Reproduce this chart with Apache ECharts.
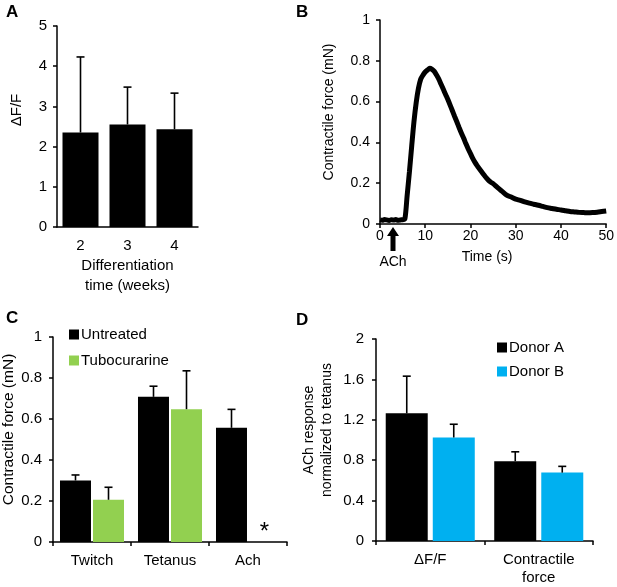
<!DOCTYPE html>
<html>
<head>
<meta charset="utf-8">
<script src="https://cdn.jsdelivr.net/npm/echarts@6/dist/echarts.min.js"></script>
<style>
  html, body { margin: 0; padding: 0; background: #fff; }
  #main { width: 617px; height: 587px; }
</style>
</head>
<body>
<div id="main"></div>
<script>
// panel A: calcium response vs differentiation time
var weeks = ['2', '3', '4']
var dffMean = [2.35, 2.55, 2.43]
var dffUpper = [4.23, 3.48, 3.33]

// panel B: ACh-evoked force trace
var traceTime = [0, 0.5, 1, 1.5, 2, 2.5, 3, 3.5, 4, 4.5, 5, 5.5, 6, 6.5, 7, 7.5, 8, 8.5, 9, 9.5,
  10, 10.5, 11, 11.5, 12, 12.5, 13, 13.5, 14, 14.5, 15, 15.5, 16, 16.5, 17, 17.5, 18, 18.5, 19, 19.5,
  20, 20.5, 21, 21.5, 22, 22.5, 23, 23.5, 24, 24.5, 25, 26, 27, 28, 29, 30, 31, 32, 33, 34,
  35, 36, 37, 38, 39, 40, 41, 42, 43, 44, 45, 46, 47, 48, 49, 50]
var traceForce = [0.02, 0.018, 0.022, 0.02, 0.017, 0.021, 0.019, 0.022, 0.018, 0.02, 0.021, 0.025, 0.14, 0.255, 0.38, 0.5, 0.595, 0.665, 0.71, 0.73,
  0.745, 0.755, 0.763, 0.758, 0.748, 0.73, 0.71, 0.685, 0.66, 0.635, 0.61, 0.583, 0.555, 0.527, 0.5, 0.472, 0.445, 0.42, 0.393, 0.368,
  0.345, 0.322, 0.302, 0.285, 0.27, 0.255, 0.24, 0.226, 0.214, 0.205, 0.198, 0.178, 0.16, 0.142, 0.132, 0.122, 0.116, 0.108, 0.102, 0.097,
  0.092, 0.086, 0.08, 0.076, 0.072, 0.069, 0.065, 0.061, 0.059, 0.057, 0.056, 0.055, 0.056, 0.058, 0.061, 0.064]

// panel C: force by stimulus, with/without tubocurarine
var stimuli = ['Twitch', 'Tetanus', 'Ach']
var untreatedMean = [0.30, 0.708, 0.557]
var untreatedUpper = [0.327, 0.76, 0.647]
var tuboMean = [0.206, 0.648, 0]
var tuboUpper = [0.267, 0.835, null]

// panel D: ACh response normalized to tetanus
var measures = ['ΔF/F', 'Contractile\nforce']
var donorAMean = [1.264, 0.79]
var donorAUpper = [1.632, 0.883]
var donorBMean = [1.025, 0.677]
var donorBUpper = [1.156, 0.739]

var FONT = 'Liberation Sans, Arial, sans-serif'
var GREEN = '#92d050'
var BLUE = '#00b0f0'

function errRows (mean, upper) {
  var rows = []
  for (var i = 0; i < mean.length; i++) {
    if (upper[i] != null) rows.push([i, mean[i], upper[i]])
  }
  return rows
}

// one-sided error bar with a cap, shifted sideways to sit on its bar
function errorBars (name, xi, mean, upper, offset) {
  return {
    name: name + ' err',
    type: 'custom',
    xAxisIndex: xi,
    yAxisIndex: xi,
    z: 5,
    silent: true,
    data: errRows(mean, upper),
    renderItem: function (params, api) {
      var base = api.coord([api.value(0), api.value(1)])
      var top = api.coord([api.value(0), api.value(2)])
      var cx = base[0] + offset
      var st = { stroke: '#000', lineWidth: 1.6 }
      return {
        type: 'group',
        children: [
          { type: 'line', shape: { x1: cx, y1: base[1], x2: cx, y2: top[1] }, style: st },
          { type: 'line', shape: { x1: cx - 4, y1: top[1], x2: cx + 4, y2: top[1] }, style: st }
        ]
      }
    }
  }
}

function valueAxis (gi, min, max, interval, fontSize, margin) {
  return {
    type: 'value',
    gridIndex: gi,
    min: min,
    max: max,
    interval: interval,
    splitLine: { show: false },
    axisLine: { show: true, lineStyle: { color: '#000', width: 1.5 } },
    axisTick: { show: true, length: 4, lineStyle: { color: '#000', width: 1.5 } },
    axisLabel: { color: '#000', fontSize: fontSize, fontFamily: FONT, margin: margin }
  }
}

var catLabel = { color: '#000', fontSize: 15, fontFamily: FONT, margin: 10, lineHeight: 18 }
var axLine = { show: true, lineStyle: { color: '#000', width: 1.5 } }

var chart = echarts.init(document.getElementById('main'))

var option = {
  animation: false,
  backgroundColor: '#fff',
  textStyle: { fontFamily: FONT },
  grid: [
    { left: 57, top: 26, width: 141, height: 201 },
    { left: 380, top: 20, width: 227, height: 204 },
    { left: 53, top: 337, width: 234, height: 205 },
    { left: 376, top: 339, width: 217, height: 203 }
  ],
  legend: [
    {
      data: ['Untreated', 'Tubocurarine'],
      orient: 'vertical', left: 64, top: 322,
      icon: 'rect', itemWidth: 10, itemHeight: 10, itemGap: 11,
      textStyle: { color: '#000', fontSize: 15, fontFamily: FONT, padding: [0, 0, 0, -3] }
    },
    {
      data: ['Donor A', 'Donor B'],
      orient: 'vertical', left: 492, top: 335,
      icon: 'rect', itemWidth: 10, itemHeight: 10, itemGap: 9,
      textStyle: { color: '#000', fontSize: 15, fontFamily: FONT, padding: [0, 0, 0, -3] }
    }
  ],
  xAxis: [
    {
      type: 'category', gridIndex: 0, data: weeks,
      axisLine: axLine, axisTick: { show: false }, axisLabel: catLabel,
      name: 'Differentiation\ntime (weeks)', nameLocation: 'middle', nameGap: 27,
      nameTextStyle: { color: '#000', fontSize: 15, fontFamily: FONT, lineHeight: 20, verticalAlign: 'top' }
    },
    {
      type: 'value', gridIndex: 1, min: 0, max: 50, interval: 10,
      splitLine: { show: false },
      axisLine: axLine,
      axisTick: { show: true, length: 4, lineStyle: { color: '#000', width: 1.5 } },
      axisLabel: { color: '#000', fontSize: 14, fontFamily: FONT, margin: 5 },
      name: 'Time (s)', nameLocation: 'middle', nameGap: 26,
      nameTextStyle: { color: '#000', fontSize: 14, fontFamily: FONT, padding: [0, 12, 0, 0] }
    },
    {
      type: 'category', gridIndex: 2, data: stimuli,
      axisLine: axLine,
      axisTick: { show: true, length: 4, lineStyle: { color: '#000', width: 1.5 } },
      axisLabel: catLabel
    },
    {
      type: 'category', gridIndex: 3, data: measures,
      axisLine: axLine,
      axisTick: { show: true, length: 4, lineStyle: { color: '#000', width: 1.5 } },
      axisLabel: catLabel
    }
  ],
  yAxis: [
    valueAxis(0, 0, 5, 1, 15, 10),
    Object.assign(valueAxis(1, 0, 1, 0.2, 14, 10), {
      name: 'Contractile force (mN)', nameLocation: 'middle', nameGap: 44,
      nameTextStyle: { color: '#000', fontSize: 14, fontFamily: FONT, padding: [0, 0, 0, 20] }
    }),
    Object.assign(valueAxis(2, 0, 1, 0.2, 15, 11), {
      name: 'Contractile force (mN)', nameLocation: 'middle', nameGap: 36,
      nameTextStyle: { color: '#000', fontSize: 15.5, fontFamily: FONT, padding: [0, 0, 0, 20] }
    }),
    Object.assign(valueAxis(3, 0, 2, 0.4, 15, 12), {
      name: 'ACh response\nnormalized to tetanus', nameLocation: 'middle', nameGap: 40,
      nameTextStyle: { color: '#000', fontSize: 14, fontFamily: FONT, lineHeight: 18, padding: [0, 0, 0, 20] }
    })
  ],
  series: [
    {
      name: 'ΔF/F', type: 'bar', xAxisIndex: 0, yAxisIndex: 0,
      data: dffMean, barWidth: 36, itemStyle: { color: '#000' }
    },
    errorBars('ΔF/F', 0, dffMean, dffUpper, 0),
    {
      name: 'Force trace', type: 'line', xAxisIndex: 1, yAxisIndex: 1,
      data: traceTime.map(function (t, i) { return [t, traceForce[i]] }),
      showSymbol: false, smooth: 0.3,
      lineStyle: { color: '#000', width: 5 }, itemStyle: { color: '#000' }
    },
    {
      name: 'Untreated', type: 'bar', xAxisIndex: 2, yAxisIndex: 2,
      data: untreatedMean, barWidth: 31, barGap: '6.5%', itemStyle: { color: '#000' }
    },
    {
      name: 'Tubocurarine', type: 'bar', xAxisIndex: 2, yAxisIndex: 2,
      data: tuboMean.map(function (v, i) {
        return i === 2 ? { value: v, label: { show: true, position: 'top', formatter: '*', fontSize: 24, color: '#000', distance: -2 } } : v
      }),
      barWidth: 31, barGap: '6.5%', itemStyle: { color: GREEN }
    },
    errorBars('Untreated', 2, untreatedMean, untreatedUpper, -16.5),
    errorBars('Tubocurarine', 2, tuboMean, tuboUpper, 16.5),
    {
      name: 'Donor A', type: 'bar', xAxisIndex: 3, yAxisIndex: 3,
      data: donorAMean, barWidth: 42, barGap: '12%', itemStyle: { color: '#000' }
    },
    {
      name: 'Donor B', type: 'bar', xAxisIndex: 3, yAxisIndex: 3,
      data: donorBMean, barWidth: 42, barGap: '12%', itemStyle: { color: BLUE }
    },
    errorBars('Donor A', 3, donorAMean, donorAUpper, -23.5),
    errorBars('Donor B', 3, donorBMean, donorBUpper, 23.5)
  ],
  graphic: [
    { type: 'text', left: 6, top: 4, style: { text: 'A', font: 'bold 17px ' + FONT, fill: '#000' } },
    { type: 'text', left: 296, top: 4, style: { text: 'B', font: 'bold 17px ' + FONT, fill: '#000' } },
    { type: 'text', left: 6, top: 310, style: { text: 'C', font: 'bold 17px ' + FONT, fill: '#000' } },
    { type: 'text', left: 296, top: 312, style: { text: 'D', font: 'bold 17px ' + FONT, fill: '#000' } },
    {
      type: 'text', x: 17, y: 110, rotation: Math.PI / 2,
      style: { text: 'ΔF/F', font: '15px ' + FONT, fill: '#000', align: 'center', verticalAlign: 'middle' }
    },
    // ACh arrow under panel B
    {
      type: 'polygon',
      shape: { points: [[393, 227], [399, 236], [395.5, 236], [395.5, 251], [390.5, 251], [390.5, 236], [387, 236]] },
      style: { fill: '#000' }
    },
    {
      type: 'text', x: 393, y: 262,
      style: { text: 'ACh', font: '14px ' + FONT, fill: '#000', align: 'center', verticalAlign: 'middle' }
    }
  ]
}

chart.setOption(option)
</script>
</body>
</html>
